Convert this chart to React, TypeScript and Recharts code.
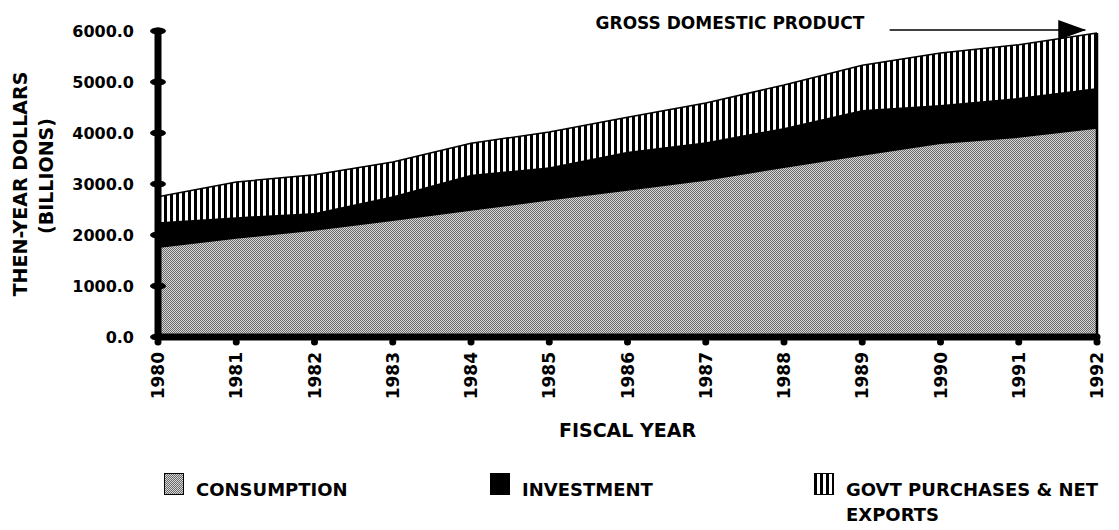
import { AreaChart, Area, XAxis, YAxis, Legend, ReferenceLine, ReferenceDot } from "recharts";

const FONT = "'DejaVu Sans', 'Liberation Sans', sans-serif";

// fiscal years
const years = [1980, 1981, 1982, 1983, 1984, 1985, 1986, 1987, 1988, 1989, 1990, 1991, 1992];

// then-year dollars, billions
const consumption = [1760, 1940, 2100, 2290, 2490, 2690, 2880, 3080, 3330, 3570, 3800, 3920, 4100];
const investment = [490, 410, 330, 470, 690, 640, 750, 740, 770, 880, 750, 770, 780];
const govtNet = [500, 690, 750, 670, 620, 690, 680, 770, 840, 880, 1020, 1040, 1080];

const yTicks = [0, 1000, 2000, 3000, 4000, 5000, 6000];

const series = [
  { key: "consumption", name: "CONSUMPTION", fill: "url(#consPat)" },
  { key: "investment", name: "INVESTMENT", fill: "#000" },
  { key: "govt", name: "GOVT PURCHASES & NET", name2: "EXPORTS", fill: "url(#govtPat)" },
];

const data = years.map((year, i) => ({
  year,
  consumption: consumption[i],
  investment: investment[i],
  govt: govtNet[i],
}));

const lastYear = years[years.length - 1];
const lastTotal = consumption[consumption.length - 1] + investment[investment.length - 1] + govtNet[govtNet.length - 1];

function YTick(props: any) {
  const { x, y, payload } = props;
  return (
    <g>
      <ellipse cx={x} cy={y} rx={8} ry={3.5} fill="#000" />
      <text x={x - 24} y={y} dy={6} textAnchor="end" fontFamily={FONT} fontWeight="bold" fontSize={16} fill="#000">
        {Number(payload.value).toFixed(1)}
      </text>
    </g>
  );
}

function XTick(props: any) {
  const { x, y, payload } = props;
  return (
    <g>
      <circle cx={x} cy={y + 5} r={3.5} fill="#000" />
      <text
        transform={`translate(${x + 6},${y + 15}) rotate(-90)`}
        textAnchor="end"
        fontFamily={FONT}
        fontWeight="bold"
        fontSize={17}
        fill="#000"
      >
        {payload.value}
      </text>
    </g>
  );
}

function YTitle(props: any) {
  const { viewBox } = props;
  const cy = viewBox.y + viewBox.height / 2;
  return (
    <g fontFamily={FONT} fontWeight="bold" fontSize={19} fill="#000">
      <text transform={`translate(19,${cy}) rotate(-90)`} textAnchor="middle">
        THEN-YEAR DOLLARS
      </text>
      <text transform={`translate(45,${cy - 8}) rotate(-90)`} textAnchor="middle">
        (BILLIONS)
      </text>
    </g>
  );
}

function XTitle(props: any) {
  const { viewBox } = props;
  return (
    <text
      x={viewBox.x + viewBox.width / 2}
      y={viewBox.y + 100}
      textAnchor="middle"
      fontFamily={FONT}
      fontWeight="bold"
      fontSize={19}
      fill="#000"
    >
      FISCAL YEAR
    </text>
  );
}

const legendIconX = [156, 482, 806];

function LegendBox() {
  return (
    <div style={{ position: "relative", width: 1111, height: 62, fontFamily: FONT, fontWeight: "bold", fontSize: 18, lineHeight: 1, color: "#000" }}>
      {series.map((s, i) => (
        <div key={s.key}>
          <svg style={{ position: "absolute", left: legendIconX[i], top: 5 }} width={20} height={22}>
            <rect x={0.5} y={0.5} width={19} height={21} fill={s.fill} stroke="#000" strokeWidth={1} />
          </svg>
          <div style={{ position: "absolute", left: legendIconX[i] + 32, top: 13, whiteSpace: "nowrap" }}>
            {s.name}
            {s.name2 && <div style={{ marginTop: 7 }}>{s.name2}</div>}
          </div>
        </div>
      ))}
    </div>
  );
}

export default function App() {
  return (
    <AreaChart width={1111} height={522} data={data} margin={{ top: 23, right: 22, bottom: 0, left: 0 }}>
      <defs>
        <pattern id="consPat" width={2} height={2} patternUnits="userSpaceOnUse">
          <rect width={2} height={2} fill="#d6d6d6" />
          <rect width={1} height={1} fill="#6a6a6a" />
          <rect x={1} y={1} width={1} height={1} fill="#6a6a6a" />
        </pattern>
        <pattern id="govtPat" width={6} height={10} patternUnits="userSpaceOnUse">
          <rect width={6} height={10} fill="#fff" />
          <rect width={3} height={10} fill="#000" />
        </pattern>
        <marker id="gdpArrow" markerUnits="userSpaceOnUse" markerWidth={28} markerHeight={20} refX={27} refY={10} orient="auto">
          <path d="M0,0 L28,10 L0,20 Z" fill="#000" />
        </marker>
      </defs>
      <XAxis
        dataKey="year"
        type="number"
        domain={[1980, 1992]}
        ticks={years}
        interval={0}
        height={193}
        tickSize={0}
        tickMargin={0}
        tickLine={false}
        axisLine={{ stroke: "#000", strokeWidth: 7, strokeLinecap: "round" }}
        tick={<XTick />}
        label={<XTitle />}
      />
      <YAxis
        type="number"
        domain={[0, 6000]}
        ticks={yTicks}
        interval={0}
        width={150}
        tickSize={0}
        tickMargin={0}
        tickLine={false}
        axisLine={{ stroke: "#000", strokeWidth: 7, strokeLinecap: "round" }}
        tick={<YTick />}
        label={<YTitle />}
      />
      {series.map((s) => (
        <Area
          key={s.key}
          type="linear"
          dataKey={s.key}
          name={s.name}
          stackId="gdp"
          stroke="#000"
          strokeWidth={1.5}
          fill={s.fill}
          fillOpacity={1}
          dot={false}
          activeDot={false}
          isAnimationActive={false}
        />
      ))}
      <ReferenceLine
        segment={[{ x: lastYear, y: 0 }, { x: lastYear, y: lastTotal }]}
        stroke="#000"
        strokeWidth={2.5}
      />
      <ReferenceLine
        segment={[{ x: 1989.35, y: 6020 }, { x: 1991.85, y: 6020 }]}
        stroke="#000"
        strokeWidth={1.5}
        markerEnd="url(#gdpArrow)"
        ifOverflow="visible"
      />
      <ReferenceDot
        x={1987.31}
        y={6150}
        r={1}
        fill="none"
        stroke="none"
        ifOverflow="visible"
        label={{ value: "GROSS DOMESTIC PRODUCT", position: "center", fill: "#000", fontSize: 17, fontWeight: "bold", fontFamily: FONT }}
      />
      <Legend
        layout="horizontal"
        verticalAlign="middle"
        align="center"
        content={<LegendBox />}
        wrapperStyle={{ top: 460, left: 0, width: 1111, height: 62 }}
      />
    </AreaChart>
  );
}
